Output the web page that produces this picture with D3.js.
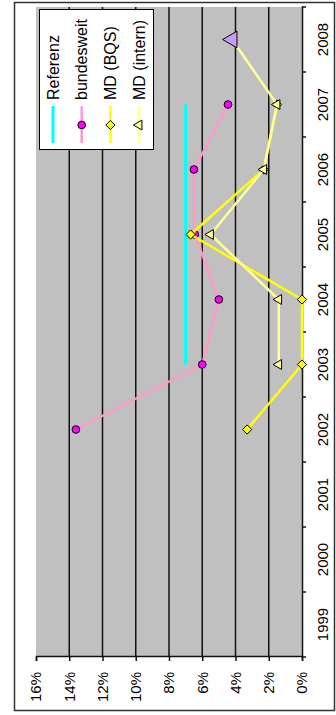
<!DOCTYPE html>
<html>
<head>
<meta charset="utf-8">
<script src="https://cdn.jsdelivr.net/npm/d3@7/dist/d3.min.js"></script>
<style>
  html, body { margin: 0; padding: 0; background: #fff; }
  svg { display: block; }
  text { font-family: "Liberation Sans", Arial, sans-serif; fill: #000; }
</style>
</head>
<body>
<svg id="chart" width="336" height="715"></svg>
<script>
// Years on the category axis
const years = ["1999", "2000", "2001", "2002", "2003", "2004", "2005", "2006", "2007", "2008"];
// Percent tick values
const pctTicks = [0, 0.02, 0.04, 0.06, 0.08, 0.10, 0.12, 0.14, 0.16];

// Series values per year (null = no value)
const referenz   = [null, null, null, null, 0.07, 0.07, 0.07, 0.07, 0.07, null];
const bundesweit = [null, null, null, 0.136, 0.060, 0.050, 0.0645, 0.065, 0.0445, null];
const mdBqs      = [null, null, null, 0.033, 0.0, 0.0, 0.067, 0.023, 0.015, null];
const mdIntern   = [null, null, null, null, 0.014, 0.014, 0.055, 0.023, 0.015, 0.042];

const seriesNames = ["Referenz", "bundesweit", "MD (BQS)", "MD (intern)"];

const axisFont = "15px";
const legendFont = "16px";

const svg = d3.select("#chart");

// Chart frame
svg.append("rect")
  .attr("x", 14.5).attr("y", 2.5)
  .attr("width", 320).attr("height", 708)
  .attr("fill", "#fff").attr("stroke", "#333").attr("stroke-width", 1.5);

// The chart is laid out as a regular line chart, then turned a quarter turn
const W = 650, H = 266;
const g = svg.append("g").attr("transform", "translate(36,657) rotate(-90)");

const x = d3.scaleBand().domain(years).range([0, W]);
const y = d3.scaleLinear().domain([0, 0.16]).range([H, 0]);
const cx = d => x(d) + x.bandwidth() / 2;

// Plot area
g.append("rect").attr("x", 0).attr("y", 0).attr("width", W).attr("height", H).attr("fill", "#c0c0c0");

// Gridlines
g.append("g").selectAll("line")
  .data(pctTicks.filter(t => t > 0 && t < 0.16))
  .join("line")
  .attr("x1", 0).attr("x2", W)
  .attr("y1", d => y(d)).attr("y2", d => y(d))
  .attr("stroke", "#111").attr("stroke-width", 1.5);

// Value axis
const yAxis = g.append("g")
  .call(d3.axisLeft(y).tickValues(pctTicks).tickFormat(d3.format(".0%")).tickSize(4).tickPadding(11));
yAxis.select(".domain").attr("stroke", "#111").attr("stroke-width", 1.5);
yAxis.selectAll(".tick line").attr("stroke", "#111").attr("stroke-width", 1.5);
yAxis.selectAll("text").style("font-size", axisFont);

// Category axis: labels centred on each year
const xAxis = g.append("g").attr("transform", `translate(0,${H})`)
  .call(d3.axisBottom(x).tickSize(0).tickPadding(15));
xAxis.select(".domain").attr("stroke", "#111").attr("stroke-width", 1.5);
xAxis.selectAll("text").style("font-size", axisFont);

// Category tick marks between the years
g.append("g").selectAll("line")
  .data(years.concat([null]))
  .join("line")
  .attr("x1", (d, i) => i * x.step()).attr("x2", (d, i) => i * x.step())
  .attr("y1", H).attr("y2", H + 4)
  .attr("stroke", "#111").attr("stroke-width", 1.5);

// Lines and markers
const line = vals => d3.line()
  .defined((d, i) => vals[i] !== null)
  .x((d, i) => cx(years[i]))
  .y((d, i) => y(vals[i]))(vals);

const diamond = {
  draw(ctx, size) {
    const r = Math.sqrt(size / 2);
    ctx.moveTo(0, -r); ctx.lineTo(r, 0); ctx.lineTo(0, r); ctx.lineTo(-r, 0); ctx.closePath();
  }
};

const series = [
  { name: seriesNames[0], vals: referenz,   line: "#00ffff", width: 3,   marker: null },
  { name: seriesNames[1], vals: bundesweit, line: "#ff99cc", width: 2.5, marker: d3.symbolCircle,   fill: "#ff00ff", size: 46 },
  { name: seriesNames[2], vals: mdBqs,      line: "#ffff00", width: 2.5, marker: diamond,          fill: "#ffff00", size: 42 },
  { name: seriesNames[3], vals: mdIntern,   line: "#ffff99", width: 2.5, marker: d3.symbolTriangle, fill: "#ffff99", size: 42 }
];

series.forEach(s => {
  g.append("path").attr("d", line(s.vals))
    .attr("fill", "none").attr("stroke", s.line).attr("stroke-width", s.width)
    .attr("stroke-linejoin", "round");
  if (s.marker) {
    g.append("g").selectAll("path")
      .data(years.map((yr, i) => ({ yr, v: s.vals[i], i })).filter(d => d.v !== null))
      .join("path")
      .attr("transform", d => `translate(${cx(d.yr)},${y(d.v)})`)
      .attr("d", d => {
        const big = s.vals === mdIntern && d.yr === "2008";
        return d3.symbol().type(s.marker).size(big ? 120 : s.size)();
      })
      .attr("fill", d => (s.vals === mdIntern && d.yr === "2008") ? "#cc99ff" : s.fill)
      .attr("stroke", "#000").attr("stroke-width", 1);
  }
});

// Legend
const lg = g.append("g").attr("transform", "translate(507,3)");
lg.append("rect").attr("x", 0.5).attr("y", 0.5).attr("width", 140).attr("height", 114)
  .attr("fill", "#fff").attr("stroke", "#000").attr("stroke-width", 1);
const rowStep = 28.7;
series.forEach((s, i) => {
  const ry = 14 + i * rowStep;
  const row = lg.append("g").attr("transform", `translate(0,${ry})`);
  row.append("line").attr("x1", 7).attr("x2", 44).attr("y1", 0).attr("y2", 0)
    .attr("stroke", s.line).attr("stroke-width", s.width);
  if (s.marker) {
    row.append("path").attr("transform", "translate(25,0)")
      .attr("d", d3.symbol().type(s.marker).size(s.size)())
      .attr("fill", s.fill).attr("stroke", "#000").attr("stroke-width", 1);
  }
  row.append("text").attr("x", 50).attr("y", 0).attr("dy", "0.35em")
    .style("font-size", legendFont).text(s.name);
});
</script>
</body>
</html>
